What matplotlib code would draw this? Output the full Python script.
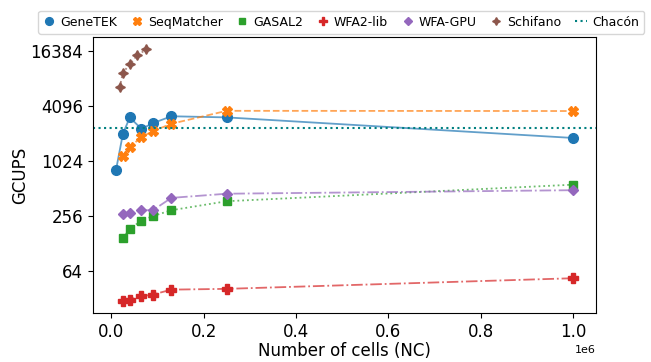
import matplotlib
matplotlib.use('Agg')
import matplotlib.pyplot as plt

# data
genetek_nc = [10000, 25000, 40000, 65000, 90000, 130000, 250000, 1000000]
genetek_gcups = [815, 2045, 3100, 2320, 2680, 3190, 3100, 1845]

seqm_nc = [25000, 40000, 65000, 90000, 130000, 250000, 1000000]
seqm_gcups = [1160, 1465, 1885, 2190, 2640, 3660, 3640]

gasal_nc = [25000, 40000, 65000, 90000, 130000, 250000, 1000000]
gasal_gcups = [147, 186, 229, 257, 298, 374, 568]

wfa2_nc = [25000, 40000, 65000, 90000, 130000, 250000, 1000000]
wfa2_gcups = [30.5, 31.3, 34.1, 35.5, 40.2, 41, 53.6]

wfagpu_nc = [25000, 40000, 65000, 90000, 130000, 250000, 1000000]
wfagpu_gcups = [269, 280, 298, 298, 407, 452, 494]

schifano_nc = [18000, 25000, 40000, 56000, 76000]
schifano_gcups = [6600, 9600, 11800, 14900, 17200]

chacon_gcups = 2350

yticks = [64, 256, 1024, 4096, 16384]

fig = plt.figure(figsize=(6.51, 3.62), dpi=100)
ax = fig.add_axes([0.143, 0.135, 0.7725, 0.763])

series = [
    ('GeneTEK', genetek_nc, genetek_gcups, 'C0', 'o', '-', 7),
    ('SeqMatcher', seqm_nc, seqm_gcups, 'C1', 'X', '--', 7),
    ('GASAL2', gasal_nc, gasal_gcups, 'C2', 's', ':', 5.5),
    ('WFA2-lib', wfa2_nc, wfa2_gcups, 'C3', 'P', '-.', 7),
    ('WFA-GPU', wfagpu_nc, wfagpu_gcups, 'C4', 'D', '-.', 5.5),
    ('Schifano', schifano_nc, schifano_gcups, 'C5', (4, 1, 0), ':', 7),
]

for name, x, y, c, m, ls, ms in series:
    ax.plot(x, y, color=c, linestyle=ls, alpha=0.7, linewidth=1.3)
    ax.plot(x, y, color=c, marker=m, linestyle='none', markersize=ms, label=name)

ax.axhline(chacon_gcups, color='teal', linestyle=':', label='Chacón')

ax.set_yscale('log', base=2)
ax.set_yticks(yticks)
ax.set_yticklabels([str(t) for t in yticks])
ax.minorticks_off()
ax.tick_params(labelsize=12)
ax.xaxis.get_offset_text().set_fontsize(8)
ax.set_xlabel('Number of cells (NC)', fontsize=12, labelpad=1)
ax.set_ylabel('GCUPS', fontsize=12, labelpad=1)

ax.legend(loc='lower center', bbox_to_anchor=(0.493, 1.0), ncol=7, fontsize=9,
          handlelength=1, handletextpad=0.4, columnspacing=1.05, markerscale=0.8,
          borderaxespad=0.25)

fig.savefig('out.png', dpi=100)
